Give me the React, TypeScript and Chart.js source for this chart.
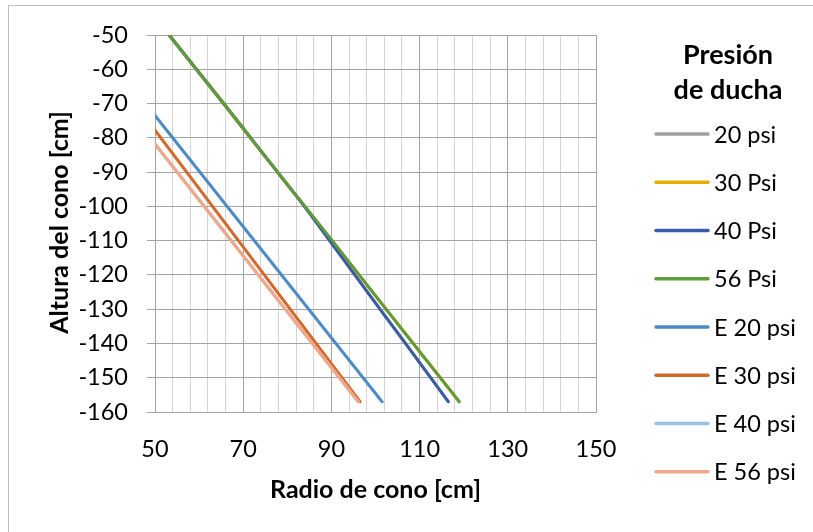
import React, { useEffect, useRef } from "react";
import { Chart, registerables } from "chart.js";

Chart.register(...registerables);

// ---- data ----
const seriesLabels = ["20 psi", "30 Psi", "40 Psi", "56 Psi", "E 20 psi", "E 30 psi", "E 40 psi", "E 56 psi"];
const seriesColors = ["#A0A0A0", "#E6AC00", "#3A5CA6", "#5F9B3D", "#4D8BC7", "#D4692C", "#9DC1E5", "#F2A888"];

// measured series (height [cm] vs radius [cm])
const heights20 = [-50, -100, -157];
const radius20 = [53.2, 83.9, 116.5];
const heights30 = [-50, -157];
const radius30 = [53.2, 119.0];
const heights40 = [-50, -70, -90, -100, -130, -140, -157];
const radius40 = [53.2, 65.6, 77.8, 83.9, 101.0, 106.8, 116.5];
const heights56 = [-50, -70, -90, -110, -130, -157];
const radius56 = [53.2, 65.6, 77.8, 90.2, 102.4, 119.0];
const heightsE20 = [-73.5, -157];
const radiusE20 = [50, 101.5];
const heightsE30 = [-77.8, -157];
const radiusE30 = [50, 96.5];
const heightsE40 = [-81.8, -157];
const radiusE40 = [50, 96.1];
const heightsE56 = [-81.8, -157];
const radiusE56 = [50, 96.1];

const seriesRadius = [radius20, radius30, radius40, radius56, radiusE20, radiusE30, radiusE40, radiusE56];
const seriesHeights = [heights20, heights30, heights40, heights56, heightsE20, heightsE30, heightsE40, heightsE56];

const xMin = 50;
const xMax = 150;
const xStep = 4;
const xLabelStep = 20;
const yMin = -160;
const yMax = -50;
const yStep = 10;

const xTitle = "Radio de cono [cm]";
const yTitle = "Altura del cono [cm]";
const legendTitle = ["Presión", "de ducha"];

const FONT = "Lato";
const MAJOR = "#A3A3A3";
const MINOR = "#D4D4D4";

const textPlugin = {
  id: "sideLegendAndTitles",
  afterDraw(chart: any) {
    const ctx = chart.ctx;
    const area = chart.chartArea;
    ctx.save();
    ctx.fillStyle = "#000";
    ctx.textAlign = "center";
    ctx.textBaseline = "middle";

    // axis titles
    ctx.font = `bold 25px ${FONT}`;
    ctx.fillText(xTitle, (area.left + area.right) / 2, 489.5);
    ctx.save();
    ctx.translate(60, (area.top + area.bottom) / 2 - 1);
    ctx.rotate(-Math.PI / 2);
    ctx.fillText(yTitle, 0, 0);
    ctx.restore();

    // legend
    ctx.font = `bold 27px ${FONT}`;
    ctx.fillText(legendTitle[0], 728, 55);
    ctx.fillText(legendTitle[1], 728, 90);
    ctx.font = `23.5px ${FONT}`;
    ctx.textAlign = "left";
    chart.data.datasets.forEach((ds: any, i: number) => {
      const y = 134 + i * 48.25;
      ctx.strokeStyle = ds.borderColor;
      ctx.lineWidth = 3.5;
      ctx.lineCap = "round";
      ctx.beginPath();
      ctx.moveTo(656, y);
      ctx.lineTo(708, y);
      ctx.stroke();
      ctx.fillStyle = "#000";
      ctx.fillText(ds.label, 714, y + 1);
    });
    ctx.restore();
  },
};

export default function App() {
  const ref = useRef<HTMLCanvasElement | null>(null);

  useEffect(() => {
    if (!ref.current) return;
    const datasets = seriesLabels.map((label, i) => ({
      label,
      data: seriesRadius[i].map((r, j) => ({ x: r, y: seriesHeights[i][j] })),
      borderColor: seriesColors[i],
      backgroundColor: seriesColors[i],
      borderWidth: 3,
      borderCapStyle: "round" as const,
      borderJoinStyle: "round" as const,
      pointRadius: 0,
      pointHoverRadius: 0,
      showLine: true,
      fill: false,
      tension: 0,
      order: -i,
    }));

    const chart = new Chart(ref.current, {
      type: "scatter",
      data: { datasets },
      options: {
        animation: false,
        responsive: false,
        devicePixelRatio: 1,
        layout: { padding: { left: 8, top: 35, right: 217, bottom: 20 } },
        plugins: { legend: { display: false }, tooltip: { enabled: false } },
        scales: {
          x: {
            type: "linear",
            min: xMin,
            max: xMax,
            afterFit: (s: any) => {
              s.height = 100;
            },
            ticks: {
              stepSize: xStep,
              autoSkip: false,
              maxRotation: 0,
              padding: 23,
              color: "#000",
              font: { family: FONT, size: 23.5 },
              callback: (v: any) => ((Number(v) - xMin) % xLabelStep === 0 ? String(v) : ""),
            },
            grid: {
              drawTicks: false,
              lineWidth: 1,
              color: (c: any) =>
                c.tick && (c.tick.value - xMin) % xLabelStep === 0 ? MAJOR : MINOR,
            },
            border: { color: MAJOR, width: 1 },
            title: { display: false },
          },
          y: {
            type: "linear",
            min: yMin,
            max: yMax,
            afterFit: (s: any) => {
              s.width = 147;
            },
            ticks: {
              stepSize: yStep,
              padding: 19,
              color: "#000",
              font: { family: FONT, size: 23.5 },
            },
            grid: { color: MAJOR, lineWidth: 1, tickLength: 8, drawTicks: true },
            border: { color: MAJOR, width: 1 },
            title: { display: false },
          },
        },
      },
      plugins: [textPlugin],
    });
    return () => chart.destroy();
  }, []);

  return (
    <div
      style={{
        position: "fixed",
        left: 0,
        top: 0,
        width: 813,
        height: 532,
        overflow: "hidden",
        background: "#fff",
      }}
    >
      <div
        style={{
          position: "absolute",
          left: 8,
          top: 5,
          width: 900,
          height: 700,
          border: "1px solid #BEBEBE",
        }}
      />
      <canvas ref={ref} width={813} height={532} style={{ position: "absolute", left: 0, top: 0 }} />
    </div>
  );
}
